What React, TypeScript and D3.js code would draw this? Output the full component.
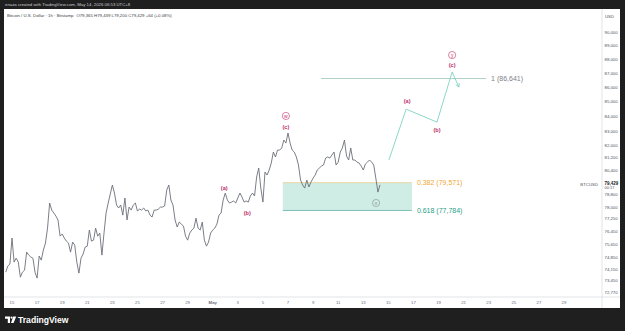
import React from 'react';
import * as d3 from 'd3';

const HEADER = 'enaza created with TradingView.com, May 14, 2026 06:53 UTC+8';
const LEGEND = 'Bitcoin / U.S. Dollar · 1h · Bitstamp';
const OHLC = 'O79,365 H79,439 L79,200 C79,429 +64 (+0.08%)';
const SYMBOL = 'BTCUSD';
const CURRENCY = 'USD';
const LAST_PRICE = 79429;
const COUNTDOWN = '00:17';

const SERIES_START = '2026-04-14T12:00:00Z';
const STEP_HOURS = 4;
const prices = [
  73960, 74330, 74450, 76050, 74570, 74810, 74570, 73660, 73960, 74080,
  75180, 75000, 74880, 74810, 73960, 73600, 74940, 74690, 75310, 75740,
  76670, 78260, 77810, 77620, 77430, 77180, 76170, 76300, 76050, 75860,
  75740, 75180, 75800, 75610, 74570, 73900, 74810, 75060, 75490, 75550,
  76550, 75860, 75920, 76670, 76170, 76360, 75000, 76360, 77620, 78260,
  78840, 79420, 78900, 78130, 77940, 78130, 77490, 78580, 77180, 78000,
  77810, 78130, 78260, 77750, 77870, 77810, 77940, 77750, 77810, 77490,
  77370, 77810, 77810, 77870, 78000, 78000, 78070, 79090, 79420, 78450,
  78130, 77180, 76740, 77050, 76920, 76800, 76170, 75920, 76360, 76550,
  76670, 77300, 76670, 76550, 77050, 75920, 75550, 75800, 76360, 76550,
  76670, 76920, 77490, 77620, 78450, 78900, 78450, 78260, 78320, 78390,
  78260, 78580, 78900, 78640, 78320, 78390, 78320, 78710, 78900, 78710,
  79940, 80530, 79220, 78320, 80270, 80070, 80400, 80860, 81590, 81260,
  81720, 81720, 81860, 82390, 82190, 82870, 82190, 81720, 81590, 81260,
  80730, 79740, 79420, 79220, 79740, 79290, 79610, 79870, 80070, 80400,
  80530, 80660, 80730, 81190, 81260, 81190, 81390, 81590, 80730, 80920,
  81590, 81860, 82390, 81320, 81060, 81860, 81060, 81060, 80920, 80860,
  80660, 80400, 80790, 80920, 81060, 80920, 80730, 79870, 78960, 79429,
];

const xTickDates = [
  '2026-04-15', '2026-04-17', '2026-04-19', '2026-04-21', '2026-04-23', '2026-04-25',
  '2026-04-27', '2026-04-29', '2026-05-01', '2026-05-03', '2026-05-05', '2026-05-07',
  '2026-05-09', '2026-05-11', '2026-05-13', '2026-05-15', '2026-05-17', '2026-05-19',
  '2026-05-21', '2026-05-23', '2026-05-25', '2026-05-27', '2026-05-29',
];
const yTicks = [
  90000, 89000, 88000, 87000, 86000, 85000, 84000, 83000, 82000, 81200, 80400,
  78800, 78000, 77250, 76450, 75650, 74850, 74150, 73450, 72770,
];

const fibBox = { start: '2026-05-06T14:00:00Z', end: '2026-05-16T21:00:00Z' };
const fibLevels = [
  { ratio: '0.382', value: 79571, color: '#f0a735', line: '#e9cf8f' },
  { ratio: '0.618', value: 77784, color: '#1f9e83', line: '#5fb5a6' },
];
const extLevel = { ratio: '1', value: 86641, start: '2026-05-09T15:00:00Z', end: '2026-05-22T19:00:00Z' };

const projDates = [
  '2026-05-15T01:00:00Z', '2026-05-16T10:00:00Z', '2026-05-18T21:00:00Z',
  '2026-05-20T02:00:00Z', '2026-05-20T15:00:00Z',
];
const projPrices = [81060, 84500, 83610, 87100, 86040];

const waveLabels = [
  { text: 'w', circled: true, date: '2026-05-06T20:00:00Z', price: 84030, color: '#c0306a' },
  { text: '(c)', circled: false, date: '2026-05-06T20:00:00Z', price: 83270, color: '#c0306a' },
  { text: '(a)', circled: false, date: '2026-05-01T22:00:00Z', price: 79220, color: '#c0306a' },
  { text: '(b)', circled: false, date: '2026-05-03T18:00:00Z', price: 77620, color: '#c0306a' },
  { text: 'x', circled: true, date: '2026-05-14T00:30:00Z', price: 78260, color: '#8a8d96' },
  { text: '(a)', circled: false, date: '2026-05-16T12:00:00Z', price: 85060, color: '#c0306a' },
  { text: '(b)', circled: false, date: '2026-05-18T21:00:00Z', price: 83070, color: '#c0306a' },
  { text: '(c)', circled: false, date: '2026-05-20T02:00:00Z', price: 87600, color: '#c0306a' },
  { text: 'y', circled: true, date: '2026-05-20T02:00:00Z', price: 88320, color: '#c0306a' },
];

const W = 625;
const H = 331;
const FONT = '"Liberation Sans", Arial, sans-serif';

export default function App() {
  const panel = { x0: 4, x1: 620, y0: 9, y1: 308 };
  const plotRight = 602;
  const plotBottom = 297;

  const x = d3
    .scaleUtc()
    .domain([new Date('2026-04-15T00:00:00Z'), new Date('2026-05-29T00:00:00Z')])
    .range([12, 564]);
  const y = d3.scaleLog().domain([72770, 90000]).range([292, 32]);

  const start = new Date(SERIES_START).getTime();
  const series = prices.map((p, i) => ({ t: new Date(start + i * STEP_HOURS * 3600 * 1000), p }));
  const line = d3
    .line<{ t: Date; p: number }>()
    .x((d) => x(d.t))
    .y((d) => y(d.p));

  const proj = projDates.map((d, i) => ({ t: new Date(d), p: projPrices[i] }));
  const projPath = line(proj) || '';
  const pa = proj[proj.length - 2];
  const pb = proj[proj.length - 1];
  const ang = Math.atan2(y(pb.p) - y(pa.p), x(pb.t) - x(pa.t));
  const ax = x(pb.t);
  const ay = y(pb.p);
  const ah = 4;
  const arrow = `M${ax - ah * Math.cos(ang - 0.5)},${ay - ah * Math.sin(ang - 0.5)}L${ax},${ay}L${
    ax - ah * Math.cos(ang + 0.5)
  },${ay - ah * Math.sin(ang + 0.5)}`;

  const bx0 = x(new Date(fibBox.start));
  const bx1 = x(new Date(fibBox.end));
  const by0 = y(fibLevels[0].value);
  const by1 = y(fibLevels[1].value);

  const ex0 = x(new Date(extLevel.start));
  const ex1 = x(new Date(extLevel.end));
  const ey = y(extLevel.value);

  const fmt = d3.format(',');
  const dayLabel = (s: string) => {
    const d = new Date(s + 'T00:00:00Z');
    return d.getUTCDate() === 1 ? d3.utcFormat('%b')(d) : String(d.getUTCDate());
  };

  const lastY = y(LAST_PRICE);

  return (
    <div style={{ position: 'fixed', left: 0, top: 0 }}>
      <svg width={W} height={H} style={{ display: 'block' }} fontFamily={FONT}>
        <rect x={0} y={0} width={W} height={H} fill="#1f1f1f" />
        <text x={5} y={6.2} fontSize={4.3} fill="#c9cbd1">
          {HEADER}
        </text>
        <rect x={panel.x0} y={panel.y0} width={panel.x1 - panel.x0} height={panel.y1 - panel.y0} fill="#ffffff" />
        <defs>
          <clipPath id="plot">
            <rect x={panel.x0} y={panel.y0} width={plotRight - panel.x0} height={plotBottom - panel.y0} />
          </clipPath>
        </defs>

        {/* legend */}
        <text x={7} y={17} fontSize={4.3} fill="#3a3d46">
          {LEGEND}
          <tspan dx={3}>{OHLC}</tspan>
        </text>

        <g clipPath="url(#plot)">
          {/* fib box */}
          <rect x={bx0} y={by0} width={bx1 - bx0} height={by1 - by0} fill="#cfece5" />
          <line x1={bx0} x2={bx1} y1={by0} y2={by0} stroke={fibLevels[0].line} strokeWidth={0.8} />
          <line x1={bx0} x2={bx1} y1={by1} y2={by1} stroke={fibLevels[1].line} strokeWidth={0.8} />
          {fibLevels.map((f) => (
            <text key={f.ratio} x={bx1 + 5} y={y(f.value) + 2.4} fontSize={7} fill={f.color}>
              {`${f.ratio} (${fmt(f.value)})`}
            </text>
          ))}

          {/* extension level */}
          <line x1={ex0} x2={ex1} y1={ey} y2={ey} stroke="#9cc2bb" strokeWidth={0.8} />
          <text x={ex1 + 5} y={ey + 2.4} fontSize={7} fill="#7d808a">
            {`${extLevel.ratio} (${fmt(extLevel.value)})`}
          </text>

          {/* price */}
          <path d={line(series) || ''} fill="none" stroke="#6c6f79" strokeWidth={0.9} strokeLinejoin="miter" />

          {/* projection */}
          <path d={projPath} fill="none" stroke="#7fd3c2" strokeWidth={0.9} />
          <path d={arrow} fill="none" stroke="#7fd3c2" strokeWidth={0.9} />

          {/* wave labels */}
          {waveLabels.map((w, i) => {
            const lx = x(new Date(w.date));
            const ly = y(w.price);
            return (
              <g key={i}>
                {w.circled && <circle cx={lx} cy={ly} r={3.6} fill="none" stroke={w.color} strokeWidth={0.6} />}
                <text
                  x={lx}
                  y={ly + (w.circled ? 1.6 : 2)}
                  fontSize={w.circled ? 5 : 5.6}
                  fontWeight={w.circled ? 400 : 700}
                  textAnchor="middle"
                  fill={w.color}
                >
                  {w.text}
                </text>
              </g>
            );
          })}
        </g>

        {/* axes borders */}
        <line x1={plotRight} x2={plotRight} y1={panel.y0} y2={panel.y1} stroke="#d6d8de" strokeWidth={0.7} />
        <line x1={panel.x0} x2={panel.x1} y1={plotBottom} y2={plotBottom} stroke="#d6d8de" strokeWidth={0.7} />

        {/* y axis */}
        <text x={605} y={17.5} fontSize={4.3} fill="#50535e">
          {CURRENCY}
        </text>
        {yTicks.map((v) => (
          <text key={v} x={604.5} y={y(v) + 1.5} fontSize={4.3} fill="#50535e">
            {fmt(v)}
          </text>
        ))}
        <rect x={603} y={lastY - 4.5} width={16} height={9.5} fill="#ffffff" />
        <text x={604.5} y={lastY - 0.2} fontSize={4.5} fontWeight={700} fill="#131722">
          {fmt(LAST_PRICE)}
        </text>
        <text x={604.5} y={lastY + 4.2} fontSize={4} fill="#50535e">
          {COUNTDOWN}
        </text>
        <text x={598} y={lastY + 1.5} fontSize={4.3} fill="#50535e" textAnchor="end">
          {SYMBOL}
        </text>

        {/* x axis */}
        {xTickDates.map((d) => (
          <text
            key={d}
            x={x(new Date(d + 'T00:00:00Z'))}
            y={304}
            fontSize={4.3}
            fill="#6a6d78"
            fontWeight={dayLabel(d) === 'May' ? 700 : 400}
            textAnchor="middle"
          >
            {dayLabel(d)}
          </text>
        ))}

        {/* TradingView logo */}
        <g fill="#ffffff">
          <path d="M5,316.5 h5 v6.5 h-2.2 v-4.3 h-2.8 z" />
          <circle cx={11.6} cy={317.6} r={1.1} />
          <path d="M13.2,316.5 h3 l-2.6,6.5 h-2.6 z" />
          <text x={18} y={323} fontSize={8.6} fontWeight={600} fontFamily={FONT}>
            TradingView
          </text>
        </g>
      </svg>
    </div>
  );
}
